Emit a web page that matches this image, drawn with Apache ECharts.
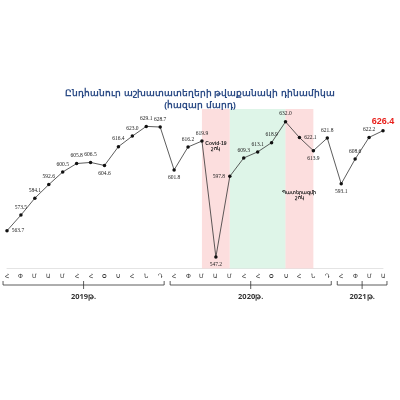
<!DOCTYPE html>
<html><head><meta charset="utf-8">
<script src="https://cdn.jsdelivr.net/npm/echarts@6/dist/echarts.min.js"></script>
<style>html,body{margin:0;padding:0;background:#fff}#c{width:400px;height:400px}</style>
</head><body><div id="c"></div>
<script>
const months = ['Հ','Փ','Մ','Ա','Մ','Հ','Հ','Օ','Ս','Հ','Ն','Դ','Հ','Փ','Մ','Ա','Մ','Հ','Հ','Օ','Ս','Հ','Ն','Դ','Հ','Փ','Մ','Ա'];
const values = [563.7,573.5,584.1,592.6,600.5,605.8,606.5,604.6,616.4,623.0,629.1,628.7,
                601.8,616.2,619.9,547.2,597.8,609.3,613.1,618.9,632.0,622.1,613.9,621.8,
                593.1,608.6,622.2,626.4];
const years = [{name:'2019թ.',from:0,to:11},{name:'2020թ.',from:12,to:23},{name:'2021թ.',from:24,to:27}];
const labelPos = {0:'right',7:'bottom',12:'bottom',15:'bottom',16:'left',22:'bottom',24:'bottom',21:'right'};

const chart = echarts.init(document.getElementById('c'));
const data = values.map((v,i)=>{
  const d={value:v};
  const last=i===values.length-1;
  d.label={position:labelPos[i]||'top'};
  if(last) d.label={position:'top',color:'#e8201b',fontSize:9,fontWeight:'bold',fontFamily:'Liberation Sans'};
  return d;
});
chart.setOption({
  animation:false,
  title:{text:'Ընդհանուր աշխատատեղերի թվաքանակի դինամիկա\n(հազար մարդ)',left:'center',top:82,
    textStyle:{color:'#2a4a85',fontSize:9,fontWeight:'bold',fontFamily:'Noto Sans',lineHeight:12}},
  grid:{left:7,right:17,top:109,bottom:131.5},
  xAxis:{type:'category',data:months,boundaryGap:false,
    axisLine:{show:true,lineStyle:{color:'#e4e4e4'}},axisTick:{show:false},
    axisLabel:{fontSize:6,color:'#333',margin:5,interval:0}},
  yAxis:{type:'value',min:540,max:640,show:false,splitLine:{show:false}},
  series:[{type:'line',data:data,symbol:'circle',symbolSize:3.5,
    itemStyle:{color:'#111'},lineStyle:{color:'#333',width:0.8},
    label:{show:true,fontSize:5.5,color:'#222',fontFamily:'Liberation Serif',distance:3,formatter:p=>p.value.toFixed(1)},
    markArea:{silent:true,label:{fontSize:5,color:'#222',fontFamily:'Liberation Sans',fontWeight:'bold'},
      data:[
        [{xAxis:14,yAxis:640,itemStyle:{color:'rgba(250,205,205,0.65)'},name:'Covid-19\nշոկ',label:{position:'insideTop',distance:32}},{xAxis:16,yAxis:540}],
        [{xAxis:16,yAxis:640,itemStyle:{color:'rgba(205,240,220,0.65)'}},{xAxis:20,yAxis:540}],
        [{xAxis:20,yAxis:640,itemStyle:{color:'rgba(250,205,205,0.65)'},name:'Պատերազմի\nշոկ',label:{position:'inside',offset:[0,6]}},{xAxis:22,yAxis:540}]
      ]}
  }]
});
const half = (chart.convertToPixel({xAxisIndex:0},1)-chart.convertToPixel({xAxisIndex:0},0))/2;
const yB = 285, g=[];
years.forEach(yr=>{
  const x0 = chart.convertToPixel({xAxisIndex:0},yr.from)-half+3;
  const x1 = chart.convertToPixel({xAxisIndex:0},yr.to)+half-3;
  const xm=(x0+x1)/2;
  const st={stroke:'#333',lineWidth:0.8};
  g.push({type:'polyline',shape:{points:[[x0,yB-4],[x0,yB],[x1,yB],[x1,yB-4]]},style:Object.assign({fill:null},st)});
  g.push({type:'line',shape:{x1:xm,y1:yB-4,x2:xm,y2:yB+4},style:st});
  g.push({type:'text',x:xm,y:yB+8,style:{text:yr.name,fontSize:7.5,fontWeight:'bold',fill:'#333',align:'center',verticalAlign:'top',fontFamily:'Noto Sans'}});
});
chart.setOption({graphic:g});
</script></body></html>
